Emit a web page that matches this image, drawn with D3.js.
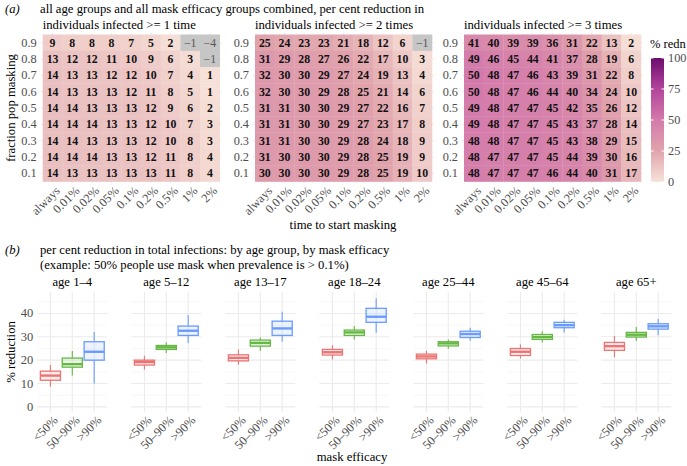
<!DOCTYPE html>
<html><head><meta charset="utf-8">
<script src="https://cdn.jsdelivr.net/npm/d3@7"></script>
<style>body{margin:0;background:#fff}</style>
</head><body>
<svg id="chart" width="687" height="466"></svg>
<script>
// ---------- DATA ----------
const timeLabels = ["always","0.01%","0.02%","0.05%","0.1%","0.2%","0.5%","1%","2%"];
const fractionLabels = ["0.9","0.8","0.7","0.6","0.5","0.4","0.3","0.2","0.1"];
const heatTitles = ["individuals infected >= 1 time","individuals infected >= 2 times","individuals infected >= 3 times"];
const rednAtLeast1 = [
  [9,8,8,8,7,5,2,-1,-4],
  [13,12,12,11,10,9,6,3,-1],
  [14,13,13,12,12,10,7,4,1],
  [14,13,13,13,12,11,8,5,1],
  [14,14,13,13,13,12,9,6,2],
  [14,14,14,13,13,12,10,7,3],
  [14,14,13,13,13,12,10,8,3],
  [14,14,14,13,13,12,11,8,4],
  [14,13,13,13,13,13,11,8,4]
];
const rednAtLeast2 = [
  [25,24,23,23,21,18,12,6,-1],
  [31,29,28,27,26,22,17,10,3],
  [32,30,30,29,27,24,19,13,4],
  [32,30,30,29,28,25,21,14,6],
  [31,31,30,30,29,27,22,16,7],
  [31,31,30,30,29,27,23,17,8],
  [31,31,30,30,29,28,24,18,9],
  [31,30,30,30,29,28,25,19,9],
  [30,30,30,30,29,28,25,19,10]
];
const rednAtLeast3 = [
  [41,40,39,39,36,31,22,13,2],
  [49,46,45,44,41,37,28,19,6],
  [50,48,47,46,43,39,31,22,8],
  [50,48,47,46,44,40,34,24,10],
  [49,48,47,47,45,42,35,26,12],
  [49,48,47,47,45,43,37,28,14],
  [48,48,47,47,45,43,38,29,15],
  [48,47,47,47,45,44,39,30,16],
  [48,47,47,47,46,44,40,31,17]
];
const legendTicks = [0,25,50,75,100];

const ageGroups = ["age 1–4","age 5–12","age 13–17","age 18–24","age 25–44","age 45–64","age 65+"];
const efficacyLabels = ["<50%","50–90%",">90%"];
const yTicksB = [0,10,20,30,40];
// [lower whisker, q1, median, q3, upper whisker] per age group
const statsLt50 = [
  [8.6,11.4,13.4,15.3,17.9],[16.0,17.9,19.2,20.0,21.9],[18.0,19.7,21.0,22.3,24.6],
  [20.3,22.2,23.4,24.6,26.4],[18.6,20.6,21.6,22.6,24.0],[20.7,22.0,23.6,25.0,26.7],
  [21.2,24.2,26.0,27.6,30.4]
];
const stats50to90 = [
  [13.4,17.0,18.3,20.9,23.9],[23.1,24.6,25.5,26.3,27.7],[24.0,26.0,27.4,28.6,29.7],
  [28.9,30.6,31.9,32.9,34.6],[24.9,26.1,27.2,27.9,28.9],[27.6,28.9,29.9,31.0,32.4],
  [28.2,29.9,30.9,31.9,34.2]
];
const statsGt90 = [
  [10.0,20.0,23.6,27.9,32.1],[27.4,30.6,32.6,34.6,39.3],[27.9,30.6,33.6,36.7,40.7],
  [31.7,36.2,38.6,42.2,46.5],[28.3,29.7,31.2,32.4,33.9],[31.9,33.9,35.0,36.2,37.3],
  [30.7,33.3,34.5,35.6,37.6]
];
const efficacyColors = ["#EC7474","#66B845","#6A9BFF"];

// ---------- DRAW ----------
const svg = d3.select("#chart");
const FS = 12.7;
const fmt = v => v < 0 ? "\u2212" + Math.abs(v) : String(v);
const color = d3.scaleLinear()
  .domain([0,25,50,75,100])
  .range(["#F7E3D9","#E0A3AC","#D47AAB","#B4449C","#6C0C6E"]);
const gridCol = "#EBEBEB";
const tickCol = "#4D4D4D";

// Panel (a) titles
svg.append("text").attr("x",5).attr("y",13).attr("font-size",FS).attr("font-style","italic").text("(a)");
svg.append("text").attr("x",40).attr("y",13).attr("font-size",FS)
  .text("all age groups and all mask efficacy groups combined, per cent reduction in");

const heatData = [rednAtLeast1, rednAtLeast2, rednAtLeast3];
const heatX0 = [42.7, 255, 464];
const heatW = 177, heatTop = 34.5, heatBottom = 181.5;

heatData.forEach((mat, p) => {
  const g = svg.append("g");
  const x = d3.scaleBand().domain(timeLabels).range([heatX0[p], heatX0[p]+heatW]);
  const y = d3.scaleBand().domain(fractionLabels).range([heatTop, heatBottom]);
  const ext = 0.1;
  g.selectAll(".hg").data(fractionLabels).join("line")
    .attr("x1", heatX0[p]-ext*x.bandwidth()).attr("x2", heatX0[p]+heatW+ext*x.bandwidth())
    .attr("y1", d => y(d)+y.bandwidth()/2).attr("y2", d => y(d)+y.bandwidth()/2)
    .attr("stroke", gridCol).attr("stroke-width",1);
  g.selectAll(".vg").data(timeLabels).join("line")
    .attr("x1", d => x(d)+x.bandwidth()/2).attr("x2", d => x(d)+x.bandwidth()/2)
    .attr("y1", heatTop-ext*y.bandwidth()).attr("y2", heatBottom+ext*y.bandwidth())
    .attr("stroke", gridCol).attr("stroke-width",1);
  const cells = [];
  mat.forEach((row, i) => row.forEach((v, j) => cells.push({r: fractionLabels[i], c: timeLabels[j], v})));
  g.selectAll("rect").data(cells).join("rect")
    .attr("x", d => x(d.c)).attr("y", d => y(d.r))
    .attr("width", x.bandwidth()+0.3).attr("height", y.bandwidth()+0.3)
    .attr("fill", d => d.v < 0 ? "#C6C6C6" : color(d.v));
  g.selectAll("text.v").data(cells).join("text").attr("class","v")
    .attr("x", d => x(d.c)+x.bandwidth()/2).attr("y", d => y(d.r)+y.bandwidth()/2)
    .attr("text-anchor","middle").attr("dominant-baseline","central")
    .attr("font-size",11.8).attr("font-weight", d => d.v < 0 ? "normal" : "bold")
    .attr("fill", d => d.v < 0 ? "#555" : "#111")
    .text(d => fmt(d.v));
  g.selectAll("text.yl").data(fractionLabels).join("text").attr("class","yl")
    .attr("x", heatX0[p]-6).attr("y", d => y(d)+y.bandwidth()/2)
    .attr("text-anchor","end").attr("dominant-baseline","central")
    .attr("font-size",12.3).attr("fill",tickCol).text(d => d);
  g.selectAll("text.xl").data(timeLabels).join("text").attr("class","xl")
    .attr("transform", d => `translate(${x(d)+x.bandwidth()/2+2},${heatBottom+4}) rotate(-45)`)
    .attr("text-anchor","end").attr("dy","0.7em")
    .attr("font-size",12.3).attr("fill",tickCol).text(d => d);
  g.append("text").attr("x", heatX0[p]).attr("y", 29).attr("font-size",FS).text(heatTitles[p]);
});

svg.append("text").attr("x",343).attr("y",229).attr("text-anchor","middle").attr("font-size",FS)
  .text("time to start masking");
svg.append("text").attr("transform","translate(15,108) rotate(-90)").attr("text-anchor","middle")
  .attr("font-size",FS).text("fraction pop masking");

// Legend
const legTop = 58, legBottom = 182, legX = 651, legW = 13;
const grad = svg.append("defs").append("linearGradient").attr("id","lg")
  .attr("x1",0).attr("y1",1).attr("x2",0).attr("y2",0);
d3.range(0,101,5).forEach(v => grad.append("stop").attr("offset", v/100).attr("stop-color", color(v)));
svg.append("text").attr("x",650).attr("y",48).attr("font-size",12.5).text("% redn");
svg.append("rect").attr("x",legX).attr("y",legTop).attr("width",legW).attr("height",legBottom-legTop)
  .attr("fill","url(#lg)");
const ly = d3.scaleLinear().domain([0,100]).range([legBottom, legTop]);
svg.selectAll("text.lt").data(legendTicks).join("text").attr("class","lt")
  .attr("x", legX+legW+4).attr("y", d => ly(d)).attr("dominant-baseline","central")
  .attr("font-size",12.3).attr("fill",tickCol).text(d => d);
svg.selectAll("line.ltk").data(legendTicks).join("line").attr("class","ltk")
  .attr("x1",legX).attr("x2",legX+2.5).attr("y1",d=>ly(d)).attr("y2",d=>ly(d)).attr("stroke","#fff");
svg.selectAll("line.ltk2").data(legendTicks).join("line").attr("class","ltk2")
  .attr("x1",legX+legW-2.5).attr("x2",legX+legW).attr("y1",d=>ly(d)).attr("y2",d=>ly(d)).attr("stroke","#fff");

// Panel (b)
svg.append("text").attr("x",5).attr("y",254).attr("font-size",FS).attr("font-style","italic").text("(b)");
svg.append("text").attr("x",40).attr("y",254).attr("font-size",FS)
  .text("per cent reduction in total infections: by age group, by mask efficacy");
svg.append("text").attr("x",40).attr("y",269).attr("font-size",FS)
  .text("(example: 50% people use mask when prevalence is > 0.1%)");

const yB = d3.scaleLinear().domain([-2.2, 49.2]).range([412, 292]);
const facetW = 70, facetStep = 94, facetX0 = 37.3;
const allStats = [statsLt50, stats50to90, statsGt90];

ageGroups.forEach((age, a) => {
  const fx = facetX0 + a*facetStep;
  const g = svg.append("g");
  const x = d3.scalePoint().domain(efficacyLabels).range([fx, fx+facetW]).padding(0.6);
  const step = x.step();
  g.selectAll(".mn").data([5,15,25,35,45]).join("line")
    .attr("x1",fx).attr("x2",fx+facetW).attr("y1",d=>yB(d)).attr("y2",d=>yB(d))
    .attr("stroke","#F3F3F3").attr("stroke-width",0.7);
  g.selectAll(".mj").data(yTicksB).join("line")
    .attr("x1",fx).attr("x2",fx+facetW).attr("y1",d=>yB(d)).attr("y2",d=>yB(d))
    .attr("stroke",gridCol).attr("stroke-width",1.1);
  g.selectAll(".vx").data(efficacyLabels).join("line")
    .attr("x1",d=>x(d)).attr("x2",d=>x(d)).attr("y1",292).attr("y2",412)
    .attr("stroke",gridCol).attr("stroke-width",1.1);
  g.append("text").attr("x", fx+facetW/2).attr("y",286).attr("text-anchor","middle")
    .attr("font-size",FS).text(age);
  efficacyLabels.forEach((e, k) => {
    const s = allStats[k][a];
    const cx = x(e), bw = step*0.92, col = efficacyColors[k];
    g.append("line").attr("x1",cx).attr("x2",cx).attr("y1",yB(s[0])).attr("y2",yB(s[1]))
      .attr("stroke",col).attr("stroke-width",1.1);
    g.append("line").attr("x1",cx).attr("x2",cx).attr("y1",yB(s[3])).attr("y2",yB(s[4]))
      .attr("stroke",col).attr("stroke-width",1.1);
    g.append("rect").attr("x",cx-bw/2).attr("y",yB(s[3])).attr("width",bw).attr("height",yB(s[1])-yB(s[3]))
      .attr("fill",col).attr("fill-opacity",0.12).attr("stroke",col).attr("stroke-width",1.3);
    g.append("line").attr("x1",cx-bw/2).attr("x2",cx+bw/2).attr("y1",yB(s[2])).attr("y2",yB(s[2]))
      .attr("stroke",col).attr("stroke-width",2.4);
  });
  g.selectAll("text.xl").data(efficacyLabels).join("text").attr("class","xl")
    .attr("transform", d => `translate(${x(d)+2},${415}) rotate(-45)`)
    .attr("text-anchor","end").attr("dy","0.7em")
    .attr("font-size",12.3).attr("fill",tickCol).text(d => d);
  if (a === 0) {
    g.selectAll("text.yl").data(yTicksB).join("text").attr("class","yl")
      .attr("x", fx-4).attr("y", d => yB(d)).attr("text-anchor","end").attr("dominant-baseline","central")
      .attr("font-size",12.5).attr("fill",tickCol).text(d => d);
  }
});
svg.append("text").attr("transform","translate(15,352) rotate(-90)").attr("text-anchor","middle")
  .attr("font-size",FS).text("% reduction");
svg.append("text").attr("x",352).attr("y",461).attr("text-anchor","middle").attr("font-size",FS)
  .text("mask efficacy");

// font for every text
svg.selectAll("text").attr("font-family","'Liberation Serif', serif");
</script>
</body></html>
